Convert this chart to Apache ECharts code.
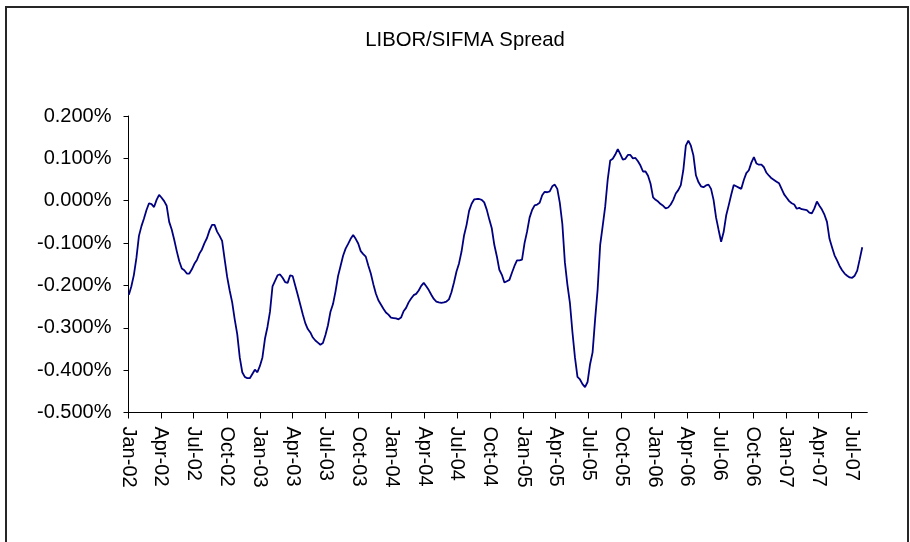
<!DOCTYPE html>
<html>
<head>
<meta charset="utf-8">
<script src="https://cdn.jsdelivr.net/npm/echarts@6/dist/echarts.min.js"></script>
<style>
  html, body { margin: 0; padding: 0; background: #fff; }
  #chart { width: 910px; height: 542px; }
</style>
</head>
<body>
<div id="chart"></div>
<script>
// Weekly observations, first one on Wed 2 Jan 2002; values in percent
const firstObservation = '2002-01-02';
const spreadBlock1 = [ // weeks 0-51
  -0.222,-0.202,-0.175,-0.135,-0.083,-0.060,-0.042,-0.022,-0.006,-0.008,-0.015,0.002,0.014,0.007,-0.001,-0.012,
  -0.050,-0.068,-0.092,-0.119,-0.143,-0.160,-0.164,-0.172,-0.172,-0.162,-0.149,-0.140,-0.125,-0.115,-0.100,-0.088,
  -0.070,-0.057,-0.057,-0.073,-0.083,-0.095,-0.138,-0.180,-0.212,-0.240,-0.280,-0.315,-0.370,-0.405,-0.416,-0.419,
  -0.419,-0.409,-0.399,-0.405
];
const spreadBlock2 = [ // weeks 52-103
  -0.390,-0.370,-0.326,-0.298,-0.262,-0.202,-0.189,-0.176,-0.174,-0.182,-0.192,-0.194,-0.176,-0.178,-0.200,-0.222,
  -0.245,-0.268,-0.289,-0.303,-0.311,-0.323,-0.330,-0.335,-0.340,-0.336,-0.317,-0.294,-0.262,-0.244,-0.214,-0.178,
  -0.154,-0.130,-0.113,-0.102,-0.090,-0.081,-0.090,-0.101,-0.119,-0.126,-0.132,-0.153,-0.172,-0.197,-0.219,-0.235,
  -0.245,-0.255,-0.264,-0.269
];
const spreadBlock3 = [ // weeks 104-155
  -0.276,-0.277,-0.278,-0.280,-0.276,-0.261,-0.253,-0.240,-0.231,-0.223,-0.220,-0.212,-0.201,-0.194,-0.202,-0.211,
  -0.222,-0.232,-0.238,-0.240,-0.241,-0.240,-0.238,-0.233,-0.216,-0.193,-0.167,-0.148,-0.120,-0.082,-0.057,-0.024,
  -0.007,0.003,0.004,0.004,0.002,-0.004,-0.021,-0.044,-0.065,-0.104,-0.131,-0.163,-0.175,-0.193,-0.190,-0.187,
  -0.170,-0.154,-0.141,-0.141
];
const spreadBlock4 = [ // weeks 156-207
  -0.139,-0.100,-0.073,-0.040,-0.022,-0.011,-0.009,-0.005,0.013,0.021,0.020,0.022,0.034,0.038,0.028,-0.005,
  -0.055,-0.145,-0.198,-0.241,-0.310,-0.370,-0.416,-0.422,-0.433,-0.440,-0.428,-0.386,-0.358,-0.280,-0.210,-0.105,
  -0.060,-0.014,0.050,0.095,0.099,0.109,0.122,0.110,0.097,0.099,0.108,0.108,0.100,0.101,0.093,0.083,
  0.069,0.069,0.059,0.040
];
const spreadBlock5 = [ // weeks 208-259
  0.008,0.002,-0.002,-0.008,-0.012,-0.018,-0.016,-0.009,0.002,0.017,0.025,0.037,0.072,0.130,0.142,0.130,
  0.107,0.060,0.044,0.034,0.032,0.036,0.038,0.028,0.002,-0.040,-0.069,-0.097,-0.074,-0.035,-0.011,0.014,
  0.037,0.034,0.031,0.028,0.049,0.065,0.072,0.090,0.103,0.088,0.085,0.085,0.079,0.066,0.059,0.053,
  0.049,0.045,0.041,0.028
];
const spreadBlock6 = [ // weeks 260-291
  0.015,0.007,-0.001,-0.006,-0.009,-0.019,-0.017,-0.020,-0.021,-0.022,-0.028,-0.030,-0.018,-0.002,-0.012,-0.021,
  -0.033,-0.050,-0.090,-0.110,-0.129,-0.141,-0.154,-0.164,-0.172,-0.177,-0.181,-0.182,-0.177,-0.165,-0.138,-0.110
];
const tickLabels = ['Jan-02','Apr-02','Jul-02','Oct-02','Jan-03','Apr-03','Jul-03','Oct-03',
  'Jan-04','Apr-04','Jul-04','Oct-04','Jan-05','Apr-05','Jul-05','Oct-05',
  'Jan-06','Apr-06','Jul-06','Oct-06','Jan-07','Apr-07','Jul-07'];
const axisEnd = '2007-08-15';

// ---- build ----
const spread = [].concat(spreadBlock1, spreadBlock2, spreadBlock3, spreadBlock4, spreadBlock5, spreadBlock6);
const DAY = 86400000;
function dayNum(y, m, d) { return Date.UTC(y, m, d) / DAY; }
function parseYMD(s) { const p = s.split('-').map(Number); return dayNum(p[0], p[1] - 1, p[2]); }
const d0 = parseYMD(firstObservation);
const seriesData = spread.map((v, i) => [d0 + 7 * i, v]);
const monthIdx = {Jan:0,Feb:1,Mar:2,Apr:3,May:4,Jun:5,Jul:6,Aug:7,Sep:8,Oct:9,Nov:10,Dec:11};
const tickDays = tickLabels.map(l => { const [m, y] = l.split('-'); return dayNum(2000 + Number(y), monthIdx[m], 1); });
const labelOf = {};
tickDays.forEach((t, i) => { labelOf[t] = tickLabels[i]; });

const chart = echarts.init(document.getElementById('chart'), null, { renderer: 'canvas' });
const font = 'Liberation Sans, Arial, sans-serif';
chart.setOption({
  animation: false,
  backgroundColor: '#ffffff',
  title: {
    text: 'LIBOR/SIFMA Spread',
    left: 460, top: 25, textAlign: 'center',
    textStyle: { fontFamily: font, fontSize: 20.3, fontWeight: 'normal', color: '#000' }
  },
  graphic: [{
    type: 'rect', silent: true,
    shape: { x: 6, y: 7, width: 902, height: 600 },
    style: { fill: 'none', stroke: '#262626', lineWidth: 2 }
  }],
  grid: { left: 128.5, right: 42.7, top: 116, bottom: 129.5, containLabel: false },
  xAxis: {
    type: 'value',
    min: tickDays[0],
    max: parseYMD(axisEnd),
    splitLine: { show: false },
    axisLine: { show: true, onZero: false, lineStyle: { color: '#000', width: 1 } },
    axisTick: { show: true, inside: false, length: 6, customValues: tickDays, lineStyle: { color: '#000' } },
    axisLabel: {
      customValues: tickDays,
      rotate: -90, margin: 14,
      fontFamily: font, fontSize: 20, color: '#000',
      formatter: v => labelOf[Math.round(v)] || ''
    }
  },
  yAxis: {
    type: 'value',
    min: -0.5, max: 0.2, interval: 0.1,
    splitLine: { show: false },
    axisLine: { show: true, lineStyle: { color: '#000', width: 1 } },
    axisTick: { show: true, inside: false, length: 5, lineStyle: { color: '#000' } },
    axisLabel: {
      margin: 17, fontFamily: font, fontSize: 20, color: '#000',
      formatter: v => v.toFixed(3) + '%'
    }
  },
  series: [{
    type: 'line',
    data: seriesData,
    showSymbol: false,
    smooth: false,
    lineStyle: { color: '#000080', width: 1.8 },
    itemStyle: { color: '#000080' }
  }]
});
</script>
</body>
</html>
